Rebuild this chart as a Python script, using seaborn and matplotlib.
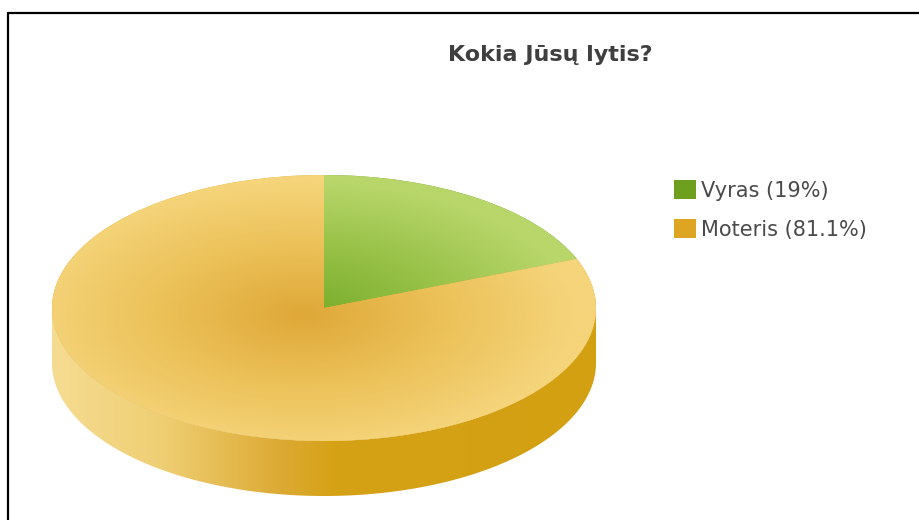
import numpy as np
import matplotlib
matplotlib.use("Agg")
import matplotlib.pyplot as plt
import seaborn as sns
from matplotlib.colors import LinearSegmentedColormap
from matplotlib.patches import Polygon
from matplotlib.lines import Line2D

# ---- data ----
categories = ["Vyras", "Moteris"]
shares = [19.0, 81.1]
labels = ["Vyras (19%)", "Moteris (81.1%)"]
title = "Kokia Jūsų lytis?"

sns.set_theme(style="white")
plt.rcParams["font.family"] = ["DejaVu Sans"]

W, H = 920, 520
fig = plt.figure(figsize=(W / 100, H / 100), dpi=100)
ax = fig.add_axes([0, 0, 1, 1])

palette = sns.color_palette(["#6f9f1f", "#dea523"])
top_cmaps = [
    LinearSegmentedColormap.from_list("g", ["#78ac2a", "#96c146", "#b8d66a"]),
    LinearSegmentedColormap.from_list("o", ["#dfa838", "#ebc057", "#f5d47a"]),
]
side_cmap = LinearSegmentedColormap.from_list(
    "s", [(0.0, "#f6dc92"), (0.2, "#efcf74"), (0.42, "#dcaa34"), (0.52, "#d5a216"), (1.0, "#d3a012")]
)

# pixel geometry of the pie (center, radii, depth)
cx, cy = 324, 212
rx, ry = 272, 133
depth = 55 / ry

# side wall
theta = np.linspace(np.pi, 2 * np.pi, 200)
upper = np.column_stack([np.cos(theta), np.sin(theta)])
lower = np.column_stack([np.cos(theta[::-1]), np.sin(theta[::-1]) - depth])
side_poly = Polygon(np.vstack([upper, lower]), closed=True, facecolor="none", edgecolor="none")
ax.add_patch(side_poly)
grad = np.linspace(0, 1, 256)[None, :]
im = ax.imshow(grad, extent=[-1, 1, -1 - depth, 0], cmap=side_cmap, aspect="auto",
               interpolation="bicubic", zorder=1)
im.set_clip_path(side_poly)

# top face
wedges, _ = ax.pie(shares, colors=palette, startangle=90, counterclock=False,
                   radius=1, center=(0, 0), frame=False,
                   wedgeprops=dict(linewidth=0, zorder=2))
xx, yy = np.meshgrid(np.linspace(-1, 1, 400), np.linspace(-1, 1, 400))
r = np.clip(np.sqrt((xx + 0.08) ** 2 + (yy + 0.05) ** 2), 0, 1)
for w, cm in zip(wedges, top_cmaps):
    img = ax.imshow(r, extent=[-1, 1, -1, 1], origin="lower", cmap=cm, vmin=0, vmax=1,
                    aspect="auto", interpolation="bilinear", zorder=3)
    img.set_clip_path(w)

ax.set_aspect("auto")
ax.set_xlim(-cx / rx, (W - cx) / rx)
ax.set_ylim(-cy / ry, (H - cy) / ry)
ax.axis("off")

# legend
leg = ax.legend(wedges, labels, loc="upper left",
                bbox_to_anchor=(674 / W, 1 - 180 / H), bbox_transform=fig.transFigure,
                frameon=False, fontsize=15, handlelength=1.05, handleheight=1.05,
                handletextpad=0.25, labelspacing=0.88, borderpad=0, borderaxespad=0,
                labelcolor="#4a4a4a")

fig.text(550 / W, 1 - 55 / H, title, ha="center", va="center",
         fontsize=16, fontweight="bold", color="#3f3f3f")

# frame lines (top and left)
fig.add_artist(Line2D([8 / W, 1], [1 - 13 / H, 1 - 13 / H], transform=fig.transFigure,
                      color="black", linewidth=1.6))
fig.add_artist(Line2D([8 / W, 8 / W], [0, 1 - 13 / H], transform=fig.transFigure,
                      color="black", linewidth=1.6))

fig.savefig("out.png", dpi=100, facecolor="white")
